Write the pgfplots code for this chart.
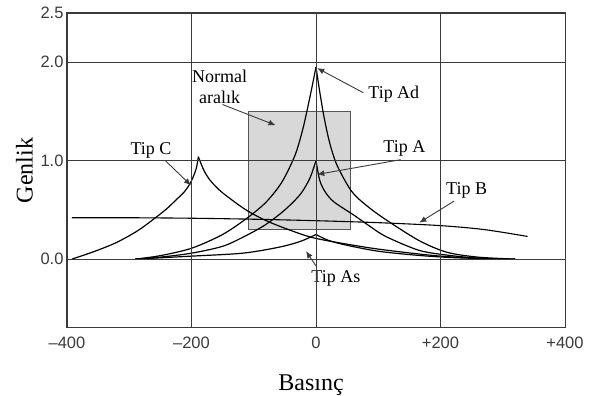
\documentclass[border=0pt]{standalone}
\usepackage{fontspec}
\setmainfont{Liberation Serif}
\newfontfamily\ticksf{Liberation Sans}
\usepackage{pgfplots}
\pgfplotsset{compat=1.18}
\usetikzlibrary{arrows.meta}
\definecolor{axgray}{HTML}{3A3A3A}
\definecolor{boxfill}{HTML}{D8D8D8}
\definecolor{boxdraw}{HTML}{555555}
\begin{document}
\begin{tikzpicture}
\path[use as bounding box] (-67pt,-68pt) rectangle (527pt,328pt);
\begin{axis}[
  at={(0,0)}, anchor=south west,
  scale only axis, width=498pt, height=315pt,
  xmin=-400, xmax=400, ymin=-0.7, ymax=2.5,
  xtick={-400,-200,0,200,400},
  xticklabels={{–400},{–200},{0},{+200},{+400}},
  ytick={0,1,2,2.5},
  yticklabels={{0.0},{1.0},{2.0},{2.5}},
  major tick length=0pt,
  grid=major,
  grid style={axgray, line width=0.9pt},
  axis line style={axgray, line width=1pt},
  axis on top,
  tick label style={font=\ticksf\fontsize{16.5}{18}\selectfont, text=axgray},
  xticklabel style={yshift=-5pt},
  yticklabel style={xshift=0pt},
  xlabel={Basınç},
  ylabel={Genlik},
  xlabel style={font=\fontsize{24}{28}\selectfont, at={(axis description cs:0.49,-0.197)}, anchor=base, inner sep=0pt},
  ylabel style={font=\fontsize{24}{28}\selectfont, at={(axis description cs:-0.068,0.5)}, anchor=south, inner sep=0pt},
  every axis plot/.append style={black, line width=1.2pt},
  clip=true,
]
% Normal range box
\addplot[fill=boxfill, draw=boxdraw, line width=1pt] coordinates {(-108,0.3) (55,0.3) (55,1.5) (-108,1.5) (-108,0.3)};
% Tip B
\addplot[smooth, line width=1.1pt] coordinates {(-392,0.42) (-300,0.42) (-200,0.415) (-100,0.405) (0,0.39) (100,0.37) (200,0.34) (270,0.3) (340,0.23)};
% Tip Ad
\addplot[smooth, tension=0.5] coordinates {(-290,0) (-250,0.035) (-200,0.11) (-150,0.25) (-110,0.42) (-80,0.58) (-55,0.78) (-34,1.05) (-22,1.3) (-14,1.52) (-7,1.73) (0,1.95)};
\addplot[smooth, tension=0.5] coordinates {(0,1.95) (6,1.7) (13,1.44) (22,1.18) (34,0.95) (57,0.69) (80,0.55) (110,0.41) (165,0.19) (210,0.07) (260,0.02) (320,0)};
% Tip A
\addplot[smooth, tension=0.5] coordinates {(-290,0) (-250,0.02) (-200,0.06) (-150,0.13) (-115,0.23) (-81,0.35) (-50,0.5) (-25,0.66) (-10,0.82) (0,1.0)};
\addplot[smooth, tension=0.5] coordinates {(0,1.0) (6,0.8) (15,0.68) (29,0.58) (60,0.45) (85,0.34) (112,0.23) (165,0.09) (211,0.04) (260,0.01) (310,0)};
% Tip As
\addplot[smooth, tension=0.5] coordinates {(-290,0) (-200,0.03) (-118,0.06) (-60,0.12) (-25,0.18) (0,0.25)};
\addplot[smooth, tension=0.5] coordinates {(0,0.25) (20,0.19) (50,0.14) (100,0.08) (160,0.04) (220,0.015) (300,0)};
% Tip C
\addplot[smooth, tension=0.5] coordinates {(-392,0) (-355,0.08) (-320,0.17) (-286,0.29) (-260,0.41) (-240,0.51) (-225,0.6) (-212,0.68) (-203,0.76) (-197,0.84) (-192,0.93) (-189,1.04)};
\addplot[smooth, tension=0.5] coordinates {(-189,1.04) (-180,0.9) (-170,0.8) (-155,0.7) (-135,0.6) (-110,0.49) (-80,0.39) (-40,0.29) (0,0.21) (80,0.12) (140,0.07) (200,0.03) (260,0.008) (320,0)};
% annotations
\begin{scope}[every node/.style={font=\fontsize{18}{21.6}\selectfont, text=black}]
\node[align=center] at (axis cs:-155,1.75) {Normal\\aralık};
\node at (axis cs:-265,1.10) {Tip C};
\node at (axis cs:125,1.68) {Tip Ad};
\node at (axis cs:142,1.12) {Tip A};
\node at (axis cs:242,0.70) {Tip B};
\node at (axis cs:32,-0.20) {Tip As};
\end{scope}
\begin{scope}[line width=0.9pt, draw=axgray, -{Latex[length=7pt,width=6pt]}]
\draw (axis cs:-150,1.57) -- (axis cs:-65,1.36);
\draw (axis cs:-242,1.0) -- (axis cs:-201,0.75);
\draw (axis cs:76,1.69) -- (axis cs:2,1.94);
\draw (axis cs:136,1.01) -- (axis cs:2,0.86);
\draw (axis cs:222,0.59) -- (axis cs:166,0.37);
\draw (axis cs:0,-0.07) -- (axis cs:-16,0.08);
\end{scope}
\end{axis}
\end{tikzpicture}
\end{document}
